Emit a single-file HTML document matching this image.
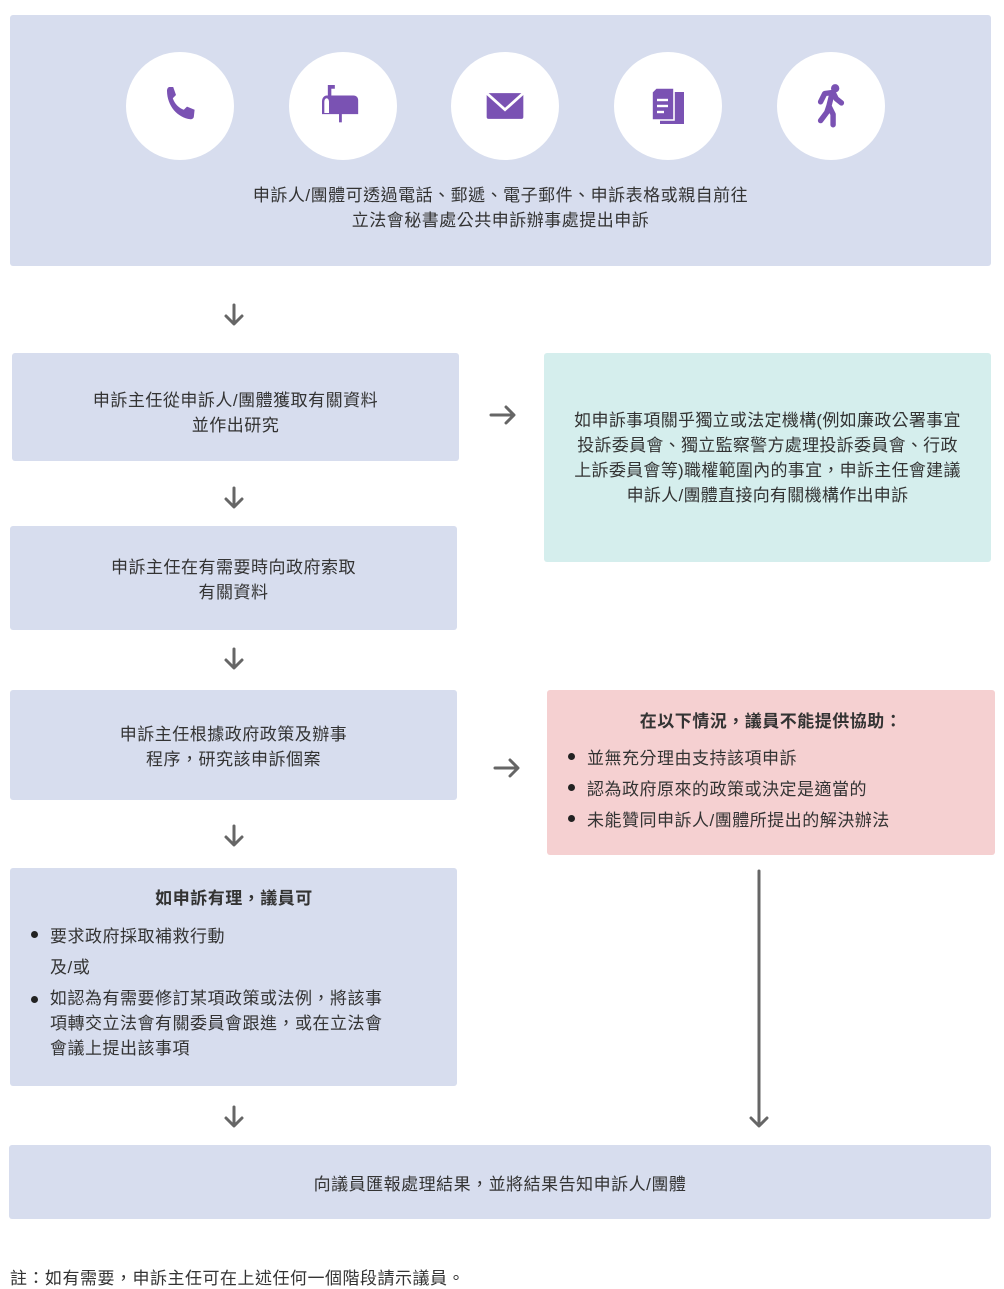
<!DOCTYPE html>
<html><head><meta charset="utf-8"><style>
body{margin:0;width:1004px;height:1288px;position:relative;background:#fff;font-family:"Liberation Sans","Noto Sans CJK TC",sans-serif;font-size:17px;letter-spacing:0.5px;color:#333;overflow:hidden}
.b{position:absolute;border-radius:3px;box-sizing:border-box;display:flex;flex-direction:column;justify-content:center;align-items:center;text-align:center;line-height:25px}
.blue{background:#d7ddee}
.c{position:absolute;width:108px;height:108px;border-radius:50%;background:#fff;top:52px;display:flex;align-items:center;justify-content:center}
ul{margin:0;padding:0;list-style:none;text-align:left}
li{position:relative;padding-left:22px}
li:before{content:"";position:absolute;left:3px;top:10px;width:7px;height:7px;border-radius:50%;background:#222}
.n:before{display:none}
svg.a{position:absolute}
</style></head><body>
<div class="b blue" style="left:10px;top:15px;width:981px;height:251px;justify-content:flex-start;padding-top:168px">申訴人/團體可透過電話、郵遞、電子郵件、申訴表格或親自前往<br>立法會秘書處公共申訴辦事處提出申訴</div>
<div class="c" style="left:126px"><svg width="48" height="48" viewBox="0 0 24 24"><path fill="#7a52b3" d="M6.6 2.5l2 0 1.4 4-1.6 1.6c.8 2.6 3 4.9 5.5 5.8l1.6-1.6 3.8 1.6-.4 3.6c-.2.8-1 1.2-1.7 1.1C10.8 17.9 5.6 12 5.5 4.5c0-1 .4-1.8 1.1-2z"/></svg></div>
<div class="c" style="left:289px"><svg width="56" height="56" viewBox="0 0 24 24"><g fill="#7a52b3"><rect x="5.5" y="3" width="1.5" height="5"/><rect x="6" y="3" width="2.5" height="1.6"/><path d="M5 7.5h11.5c1.2 0 2 .9 2 2v6H3V10c0-1.4.9-2.5 2-2.5z"/><rect x="10.3" y="15" width="1.2" height="4"/></g><path fill="#fff" d="M4 15V10.3c0-1 .5-1.6 1-1.6s1 .6 1 1.6V15z"/></svg></div>
<div class="c" style="left:451px"><svg width="44" height="44" viewBox="0 0 24 24"><rect x="2" y="5" width="20" height="14" rx="1" fill="#7a52b3"/><path d="M2 5l10 9 10-9" fill="none" stroke="#fff" stroke-width="1.5"/></svg></div>
<div class="c" style="left:614px"><svg width="48" height="48" viewBox="0 0 24 24"><rect x="8" y="5" width="12" height="16" fill="#7a52b3"/><path d="M6 3h9v16H4V5z" fill="#7a52b3" stroke="#fff" stroke-width=".8"/><g stroke="#fff" stroke-width="1.2"><line x1="6.5" y1="9" x2="12" y2="9"/><line x1="6.5" y1="12" x2="12" y2="12"/><line x1="6.5" y1="15" x2="10" y2="15"/></g></svg></div>
<div class="c" style="left:777px"><svg width="50" height="50" viewBox="0 0 24 24"><g fill="#7a52b3"><circle cx="14" cy="3.5" r="2"/></g><path d="M7 10l2-4 4-.5 1.5 3 2.5 2M12.5 6l-1.5 6 2 4v5M11 12l-1 3-3 4" fill="none" stroke="#7a52b3" stroke-width="2.6" stroke-linecap="round" stroke-linejoin="round"/></svg></div>

<div class="b blue" style="left:12px;top:353px;width:447px;height:108px;padding-top:12px">申訴主任從申訴人/團體獲取有關資料<br>並作出研究</div>
<div class="b" style="left:544px;top:353px;width:447px;height:209px;background:#d5eeed;letter-spacing:0.3px">如申訴事項關乎獨立或法定機構(例如廉政公署事宜<br>投訴委員會、獨立監察警方處理投訴委員會、行政<br>上訴委員會等)職權範圍內的事宜，申訴主任會建議<br>申訴人/團體直接向有關機構作出申訴</div>
<div class="b blue" style="left:10px;top:526px;width:447px;height:104px;padding-top:4px">申訴主任在有需要時向政府索取<br>有關資料</div>
<div class="b blue" style="left:10px;top:690px;width:447px;height:110px;padding-top:4px">申訴主任根據政府政策及辦事<br>程序，研究該申訴個案</div>
<div class="b" style="left:547px;top:690px;width:448px;height:165px;background:#f5d0d1;justify-content:flex-start;align-items:flex-start;padding:16px 0 0 18px;line-height:31px">
<div style="width:412px;text-align:center;font-weight:bold;margin-bottom:6px">在以下情況，議員不能提供協助：</div>
<ul><li>並無充分理由支持該項申訴</li><li>認為政府原來的政策或決定是適當的</li><li>未能贊同申訴人/團體所提出的解決辦法</li></ul></div>
<div class="b blue" style="left:10px;top:868px;width:447px;height:218px;justify-content:flex-start;align-items:flex-start;padding:18px 0 0 18px">
<div style="width:412px;text-align:center;font-weight:bold;margin-bottom:10px">如申訴有理，議員可</div>
<ul style="line-height:31px"><li>要求政府採取補救行動</li><li class="n">及/或</li><li style="line-height:25px;margin-top:3px">如認為有需要修訂某項政策或法例，將該事<br>項轉交立法會有關委員會跟進，或在立法會<br>會議上提出該事項</li></ul></div>
<div class="b blue" style="left:9px;top:1145px;width:982px;height:74px;padding-top:4px">向議員匯報處理結果，並將結果告知申訴人/團體</div>
<div style="position:absolute;left:10px;top:1264px">註：如有需要，申訴主任可在上述任何一個階段請示議員。</div>

<svg class="a" style="left:0;top:0" width="1004" height="1288">
<g fill="none" stroke="#666" stroke-width="3" stroke-linecap="round" stroke-linejoin="round">
<path d="M234 305v18M226 316l8 8 8-8"/>
<path d="M234 488v18M226 499l8 8 8-8"/>
<path d="M234 649v18M226 660l8 8 8-8"/>
<path d="M234 826v18M226 837l8 8 8-8"/>
<path d="M234 1107v18M226 1118l8 8 8-8"/>
<path d="M759 871v254M751 1118l8 8 8-8"/>
<path d="M491 415h22M506 407l8 8-8 8"/>
<path d="M495 768h22M510 760l8 8-8 8"/>
</g></svg>
</body></html>
